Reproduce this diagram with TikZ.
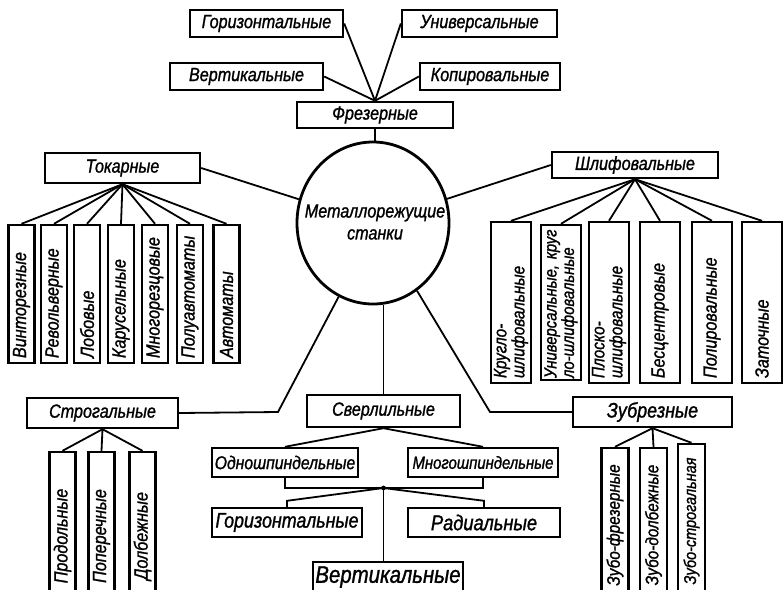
\documentclass[tikz,border=0pt]{standalone}
\usepackage{fontspec}
\setmainfont{Liberation Sans}[FakeStretch=0.85, ItalicFeatures={FakeBold=1.2}]
\usetikzlibrary{shapes.geometric}
\newcommand\myfs[1]{\fontsize{#1}{#1}\selectfont\itshape}
\begin{document}
\begin{tikzpicture}[x=1pt,y=1pt,
  box/.style={draw, line width=2.4pt, inner sep=0pt, align=center, font=\myfs{19}},
  vbox/.style={box, rotate=90, align=left, inner xsep=5pt},
  link/.style={line width=1.8pt},
]
\useasboundingbox (0,0) rectangle (783,-589);
\clip (0,0) rectangle (783,-589);
\fill[white] (0,0) rectangle (783,-589);
% top group
\node[box, minimum width=153pt, minimum height=27pt] (gorA) at (266.5,-23.5) {Горизонтальные};
\node[box, minimum width=155pt, minimum height=27pt] (univ) at (479.5,-23.5) {Универсальные};
\node[box, minimum width=153pt, minimum height=27pt] (vertA) at (246.5,-76.5) {Вертикальные};
\node[box, minimum width=140pt, minimum height=27pt] (kopir) at (490,-76.5) {Копировальные};
\node[box, minimum width=156pt, minimum height=26pt] (frez) at (375,-115) {Фрезерные};
% centre
\node[ellipse, draw, line width=2.8pt, minimum width=152pt, minimum height=162pt, inner sep=0pt] (circ) at (373,-223) {};
\node[align=center, inner sep=0pt, font=\fontsize{19}{22}\selectfont\itshape] (circtext) at (375,-222) {Металлорежущие\\станки};
% turning
\node[vbox, text width=128pt, minimum height=26pt] (t1) at (21.5,-294) {Винторезные};
\node[vbox, text width=128pt, minimum height=26pt] (t2) at (54,-294) {Револьверные};
\node[vbox, text width=128pt, minimum height=26pt] (t3) at (87,-294) {Лобовые};
\node[vbox, text width=128pt, minimum height=26pt] (t4) at (121,-294) {Карусельные};
\node[vbox, text width=128pt, minimum height=26pt] (t5) at (155,-294) {Многорезцовые};
\node[vbox, text width=128pt, minimum height=26pt] (t6) at (190,-294) {Полуавтоматы};
\node[vbox, text width=128pt, minimum height=26pt] (t7) at (226.5,-294) {Автоматы};
\node[box, minimum width=155pt, minimum height=30pt] (tok) at (122.5,-168) {Токарные};
% grinding
\node[box, minimum width=166pt, minimum height=26pt] (shl) at (635,-165) {Шлифовальные};
\node[vbox, text width=151pt, minimum height=40pt, font=\myfs{18}] (s1) at (511,-302.5) {Кругло-\\шлифовальные};
\node[vbox, text width=151pt, inner xsep=2pt, minimum height=40pt, font=\myfs{17.5}] (s2) at (561,-302.5) {Универсальные, круг\\ло-шлифовальные};
\node[vbox, text width=151pt, minimum height=40pt, font=\myfs{18}] (s3) at (609,-302.5) {Плоско-\\шлифовальные};
\node[vbox, text width=151pt, minimum height=40pt] (s4) at (660,-302.5) {Бесцентровые};
\node[vbox, text width=151pt, minimum height=40pt] (s5) at (712,-302.5) {Полировальные};
\node[vbox, text width=151pt, minimum height=40pt] (s6) at (762,-302.5) {Заточные};
% planing
\node[box, minimum width=151pt, minimum height=30pt] (strog) at (102.5,-413) {Строгальные};
\node[box, rotate=90, minimum width=168pt, minimum height=26pt] (p1) at (62.5,-536) {Продольные};
\node[box, rotate=90, minimum width=168pt, minimum height=26pt] (p2) at (101.5,-536) {Поперечные};
\node[box, rotate=90, minimum width=168pt, minimum height=26pt] (p3) at (142.5,-536) {Долбежные};
% drilling
\node[box, minimum width=153pt, minimum height=32pt] (sverl) at (383.5,-411) {Сверлильные};
\node[box, minimum width=146pt, minimum height=29pt, font=\myfs{18.5}] (odno) at (285,-462.5) {Одношпиндельные};
\node[box, minimum width=150pt, minimum height=29pt, font=\myfs{17.5}] (mnogo) at (483,-462.5) {Многошпиндельные};
\node[box, minimum width=150pt, minimum height=29pt, font=\myfs{21}] (gorB) at (287,-522.5) {Горизонтальные};
\node[box, minimum width=152pt, minimum height=29pt, font=\myfs{21.5}] (rad) at (484,-522.5) {Радиальные};
\node[box, minimum width=150pt, minimum height=30pt, font=\myfs{24}] (vertB) at (388,-577) {Вертикальные};
% gear cutting
\node[box, minimum width=159pt, minimum height=30pt, font=\myfs{21}] (zub) at (652.5,-412) {Зубрезные};
\node[box, rotate=90, minimum width=154pt, minimum height=27pt, font=\myfs{18}] (z1) at (615,-525) {Зубо-фрезерные};
\node[box, rotate=90, minimum width=154pt, minimum height=27pt, font=\myfs{18}] (z2) at (653.5,-525) {Зубо-долбежные};
\node[box, rotate=90, minimum width=154pt, minimum height=27pt, font=\myfs{17}] (z3) at (691.5,-521) {Зубо-строгальная};
% connectors
\draw[link] (gorA.east) -- (frez.north);
\draw[link] (univ.west) -- (frez.north);
\draw[link] (vertA.east) -- (frez.north);
\draw[link] (kopir.west) -- (frez.north);
\draw[link] (frez.south) -- (frez.south |- circ.north);
\draw[link] (tok.east) -- (circ);
\draw[link] (shl.west) -- (circ);
\coordinate (sk) at (278,-412);
\draw[link] (strog.east) -- (sk) -- (circ.245);
\coordinate (zk) at (490,-412);
\draw[link] (zub.west) -- (zk) -- (circ.303);
\draw[link] (sverl.north) -- (sverl.north |- circ.south);
\foreach \c in {t1,t2,t3,t4,t5,t6,t7} \draw[link] (tok.south) -- (\c.east);
\foreach \c in {s1,s2,s3,s4,s5,s6} \draw[link] (shl.south) -- (\c.east);
\foreach \c in {p1,p2,p3} \draw[link] (strog.south) -- (\c.east);
\foreach \c in {z1,z2,z3} \draw[link] (zub.south) -- (\c.east);
\draw[link] (sverl.south) -- (odno.north);
\draw[link] (sverl.south) -- (mnogo.north);
\coordinate (jn) at (383.5,-488);
\draw[link] (odno.south) -- (odno.south |- jn) -- (mnogo.south |- jn) -- (mnogo.south);
\fill (jn) circle (2.4pt);
\draw[link] (jn) -- ([yshift=6pt]gorB.north) -- (gorB.north);
\draw[link] (jn) -- ([yshift=6pt]rad.north) -- (rad.north);
\draw[link] (jn) -- (jn |- vertB.north);
\end{tikzpicture}
\end{document}
